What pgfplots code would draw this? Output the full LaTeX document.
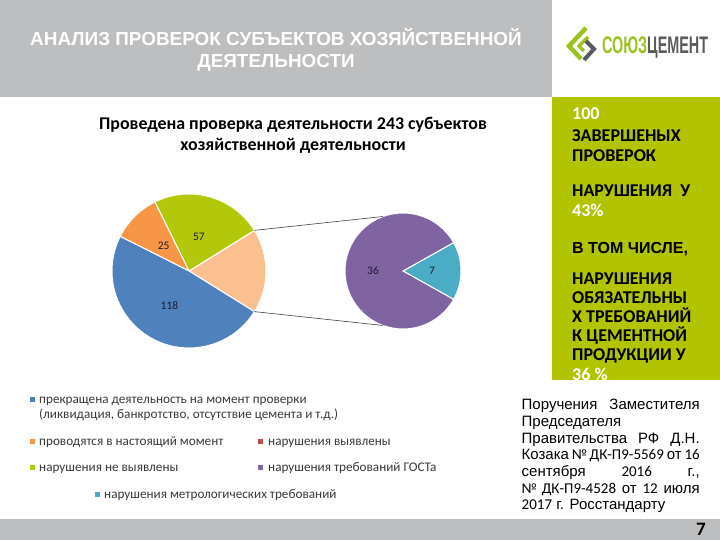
\documentclass[border=0pt]{standalone}
\usepackage{pgfplots}
\pgfplotsset{compat=1.18}
\usepackage{pgfplotstable}
\usepackage{fontspec}
\setmainfont{Carlito}
\newfontfamily\arial{Liberation Sans}
\newfontfamily\calibri{Carlito}
\definecolor{hdrgray}{HTML}{BCBEC0}
\definecolor{panelgreen}{HTML}{B2C300}
\definecolor{pblue}{HTML}{4F81BD}
\definecolor{porange}{HTML}{F79646}
\definecolor{pgreen}{HTML}{B3C80A}
\definecolor{plight}{HTML}{FAC090}
\definecolor{ppurple}{HTML}{8064A2}
\definecolor{pteal}{HTML}{4BACC6}
\definecolor{pred}{HTML}{C0504D}
\definecolor{txtgray}{HTML}{3A3A3A}
\definecolor{lblcol}{HTML}{1C1C30}
\definecolor{logogray}{HTML}{5A5B5D}
\definecolor{logogreen}{HTML}{9CC31B}

% main pie: blue, orange, green, rest (split in the second pie)
\pgfplotstableread{
value
118
25
57
43
}\maintable
% second pie: GOST violations, metrological violations
\pgfplotstableread{
value
36
7
}\subtable
\pgfplotstablegetelem{0}{value}\of\maintable\let\vBlue\pgfplotsretval
\pgfplotstablegetelem{1}{value}\of\maintable\let\vOrange\pgfplotsretval
\pgfplotstablegetelem{2}{value}\of\maintable\let\vGreen\pgfplotsretval
\pgfplotstablegetelem{3}{value}\of\maintable\let\vRest\pgfplotsretval
\pgfplotstablegetelem{0}{value}\of\subtable\let\vPurple\pgfplotsretval
\pgfplotstablegetelem{1}{value}\of\subtable\let\vTeal\pgfplotsretval
\pgfmathsetmacro\tot{\vBlue+\vOrange+\vGreen+\vRest}
\pgfmathsetmacro\aZero{-180*(\vRest/\tot)}
\pgfmathsetmacro\aOne{\aZero+360*(\vRest/\tot)}
\pgfmathsetmacro\aTwo{\aOne+360*(\vGreen/\tot)}
\pgfmathsetmacro\aThree{\aTwo+360*(\vOrange/\tot)}
\pgfmathsetmacro\aFour{\aThree+360*(\vBlue/\tot)}
\pgfmathsetmacro\mGreen{(\aOne+\aTwo)/2}
\pgfmathsetmacro\mOrange{(\aTwo+\aThree)/2}
\pgfmathsetmacro\mBlue{(\aThree+\aFour)/2}
\pgfmathsetmacro\subtot{\vPurple+\vTeal}
\pgfmathsetmacro\bZero{-180*(\vTeal/\subtot)}
\pgfmathsetmacro\bOne{\bZero+360*(\vTeal/\subtot)}
\pgfmathsetmacro\bTwo{\bOne+360*(\vPurple/\subtot)}
\pgfmathsetmacro\mPurple{(\bOne+\bTwo)/2}

\begin{document}
\begin{tikzpicture}[x=1pt,y=1pt]
\fill[white] (0,0) rectangle (720,540);
% header
\fill[hdrgray] (0,443) rectangle (552,540);
\node[white,align=center,font=\arial\bfseries\fontsize{18.9}{22}\selectfont] at (276,490)
  {АНАЛИЗ ПРОВЕРОК СУБЪЕКТОВ ХОЗЯЙСТВЕННОЙ\\ДЕЯТЕЛЬНОСТИ};
% logo
\draw[logogreen,line width=4.5pt] (586,512) -- (569,494) -- (581,481);
\draw[logogreen,line width=3.5pt] (588,503) -- (579,494) -- (584,489);
\draw[logogray,line width=4pt] (586,499) -- (594,491) -- (584,480);
\node[anchor=west,inner sep=0pt,xscale=0.6,font=\arial\bfseries\fontsize{24}{26}\selectfont] at (602,492)
  {\textcolor{logogreen}{СОЮЗ}\textcolor{logogray}{ЦЕМЕНТ}};
% right panel
\fill[panelgreen] (552,160) rectangle (720,443);
\begin{scope}
\clip (552,160) rectangle (720,443);
\begin{scope}[every node/.style={anchor=base west,inner sep=0pt,font=\calibri\bfseries\fontsize{18}{19}\selectfont}]
\node[white] at (572,420) {100};
\node at (572,398) {ЗАВЕРШЕНЫХ};
\node at (572,378) {ПРОВЕРОК};
\node at (572,343) {НАРУШЕНИЯ\ \ У};
\node[white] at (572,323) {43\%};
\node[font=\arial\bfseries\fontsize{16}{18}\selectfont] at (572,286) {В ТОМ ЧИСЛЕ,};
\node at (572,255) {НАРУШЕНИЯ};
\node at (572,236) {ОБЯЗАТЕЛЬНЫ};
\node at (572,217) {Х ТРЕБОВАНИЙ};
\node at (572,198) {К ЦЕМЕНТНОЙ};
\node at (572,179) {ПРОДУКЦИИ У};
\node[white] at (572,159) {36 \%};
\end{scope}
\end{scope}
% chart title
\node[align=center,font=\calibri\bfseries\fontsize{17.9}{21}\selectfont] at (293,405)
  {Проведена проверка деятельности 243 субъектов\\хозяйственной деятельности};
% pies
\begin{axis}[at={(0,0)},anchor=south west,scale only axis,width=720pt,height=540pt,
  xmin=0,xmax=720,ymin=0,ymax=540,hide axis,clip=false]
\fill[plight,draw=white,line width=1pt] (axis cs:189,269) -- ++(\aZero:77pt) arc[start angle=\aZero,end angle=\aOne,radius=77pt] -- cycle;
\fill[pgreen,draw=white,line width=1pt] (axis cs:189,269) -- ++(\aOne:77pt) arc[start angle=\aOne,end angle=\aTwo,radius=77pt] -- cycle;
\fill[porange,draw=white,line width=1pt] (axis cs:189,269) -- ++(\aTwo:77pt) arc[start angle=\aTwo,end angle=\aThree,radius=77pt] -- cycle;
\fill[pblue,draw=white,line width=1pt] (axis cs:189,269) -- ++(\aThree:77pt) arc[start angle=\aThree,end angle=\aFour,radius=77pt] -- cycle;
\fill[pteal,draw=white,line width=1pt] (axis cs:403,269) -- ++(\bZero:58pt) arc[start angle=\bZero,end angle=\bOne,radius=58pt] -- cycle;
\fill[ppurple,draw=white,line width=1pt] (axis cs:403,269) -- ++(\bOne:58pt) arc[start angle=\bOne,end angle=\bTwo,radius=58pt] -- cycle;
\draw[black!75,line width=0.6pt] (axis cs:189,269) ++(\aOne:77pt) -- (axis cs:383.2,323.5);
\draw[black!75,line width=0.6pt] (axis cs:189,269) ++(\aZero:77pt) -- (axis cs:383.2,214.5);
\path (axis cs:189,269) ++(\mGreen:36pt) node[lblcol,font=\calibri\fontsize{11.5}{12}\selectfont] {\vGreen};
\path (axis cs:189,269) ++(\mOrange:36pt) node[lblcol,font=\calibri\fontsize{11.5}{12}\selectfont] {\vOrange};
\path (axis cs:189,269) ++(\mBlue:40pt) node[lblcol,font=\calibri\fontsize{11.5}{12}\selectfont] {\vBlue};
\path (axis cs:403,269) ++(\mPurple:30pt) node[lblcol,font=\calibri\fontsize{11.5}{12}\selectfont] {\vPurple};
\path (axis cs:403,269) ++(0:29pt) node[lblcol,font=\calibri\fontsize{11.5}{12}\selectfont] {\vTeal};
\end{axis}
% legend
\begin{scope}[every node/.style={anchor=base west,inner sep=0pt,txtgray,font=\calibri\fontsize{13.2}{15}\selectfont}]
\fill[pblue] (29.5,137.5) rectangle (35,143);
\node at (39,136) {прекращена деятельность на момент проверки};
\node at (39,121) {(ликвидация, банкротство, отсутствие цемента и т.д.)};
\fill[porange] (29.5,95.5) rectangle (35,101);
\node at (39,94) {проводятся в настоящий момент};
\fill[pred] (257.5,95.5) rectangle (263,101);
\node at (268,94) {нарушения выявлены};
\fill[pgreen] (29.5,69.5) rectangle (35,75);
\node at (39,68) {нарушения не выявлены};
\fill[ppurple] (257.5,69.5) rectangle (263,75);
\node at (268,68) {нарушения требований ГОСТа};
\fill[pteal] (94.5,42.5) rectangle (100,48);
\node at (104,41) {нарушения метрологических требований};
\end{scope}
% bottom right paragraph
\begin{scope}[every node/.style={anchor=base west,inner sep=0pt,font=\arial\fontsize{15}{16}\selectfont}]
\node at (521.5,130) {\makebox[178pt][s]{Поручения Заместителя}};
\node at (521.5,113.3) {Председателя};
\node at (521.5,96.7) {\makebox[178pt][s]{Правительства РФ Д.Н.}};
\node at (521.5,80) {\makebox[178pt][s]{Козака {\calibri № ДК-П9-5569} от {\calibri 16}}};
\node at (521.5,63.3) {\makebox[178pt][s]{сентября {\calibri 2016} г.,}};
\node at (521.5,46.7) {\makebox[178pt][s]{{\calibri № ДК-П9-4528} от {\calibri 12} июля}};
\node at (521.5,30) {{\calibri 2017} г. Росстандарту};
\end{scope}
% footer
\fill[hdrgray] (0,0) rectangle (720,21);
\node[font=\calibri\bfseries\fontsize{19}{20}\selectfont] at (701,10.5) {7};
\end{tikzpicture}
\end{document}
